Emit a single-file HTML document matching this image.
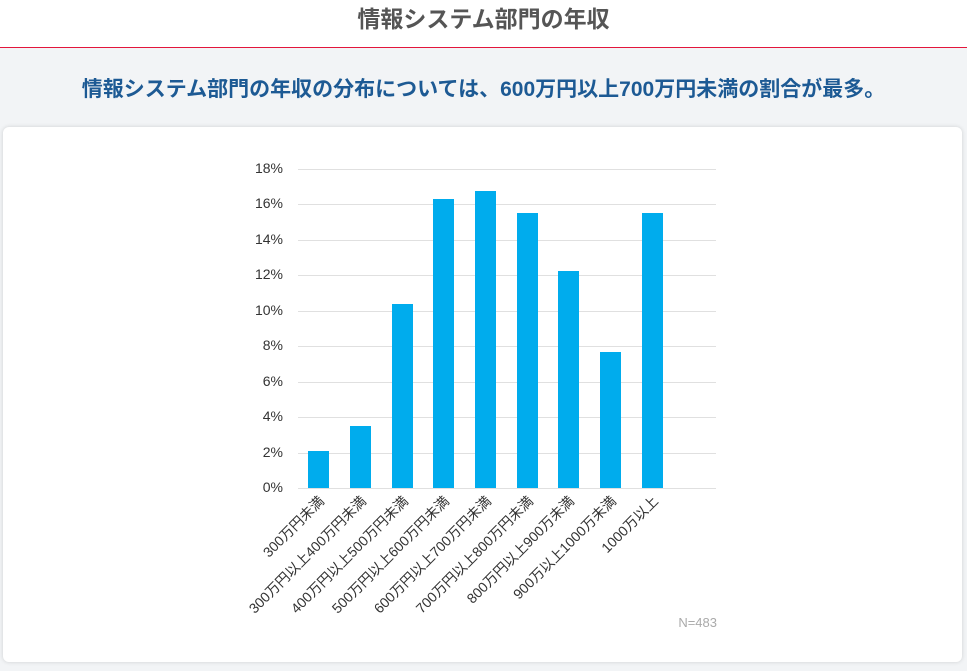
<!DOCTYPE html>
<html><head><meta charset="utf-8"><style>
body{margin:0;width:967px;height:671px;background:#f2f4f6;font-family:"Liberation Sans","Noto Sans CJK JP",sans-serif;position:relative;overflow:hidden}
.top{position:absolute;left:0;top:0;width:967px;height:47px;background:#fff;border-bottom:1px solid #e3163c}
.top h1{margin:0;text-align:center;font-size:23px;line-height:38px;color:#555;font-weight:bold}
.sub{position:absolute;top:73px;width:967px;text-align:center;font-size:21px;font-weight:bold;color:#1d5a94}
.card{position:absolute;left:3px;top:127px;width:959px;height:535px;background:#fff;border-radius:6px;box-shadow:0 0 4px rgba(0,0,0,.15)}
</style></head><body>
<div class="top"><h1>情報システム部門の年収</h1></div>
<div class="sub">情報システム部門の年収の分布については、600万円以上700万円未満の割合が最多。</div>
<div class="card"></div>
<svg style="position:absolute;left:0;top:0" width="967" height="671" font-family="Liberation Sans, Noto Sans CJK JP, sans-serif">
<g stroke="#e0e0e0" stroke-width="1">
<line x1="298" x2="716" y1="169.5" y2="169.5"/><line x1="298" x2="716" y1="204.5" y2="204.5"/><line x1="298" x2="716" y1="240.5" y2="240.5"/><line x1="298" x2="716" y1="275.5" y2="275.5"/><line x1="298" x2="716" y1="311.5" y2="311.5"/><line x1="298" x2="716" y1="346.5" y2="346.5"/><line x1="298" x2="716" y1="382.5" y2="382.5"/><line x1="298" x2="716" y1="417.5" y2="417.5"/><line x1="298" x2="716" y1="453.5" y2="453.5"/><line x1="298" x2="716" y1="488.5" y2="488.5"/>
</g>
<g font-size="14" fill="#333" text-anchor="end">
<text x="283" y="173">18%</text><text x="283" y="208">16%</text><text x="283" y="244">14%</text><text x="283" y="279">12%</text><text x="283" y="315">10%</text><text x="283" y="350">8%</text><text x="283" y="386">6%</text><text x="283" y="421">4%</text><text x="283" y="457">2%</text><text x="283" y="492">0%</text>
</g>
<g fill="#00aced">
<rect x="308" y="451" width="21" height="37"/><rect x="350" y="426" width="21" height="62"/><rect x="392" y="304" width="21" height="184"/><rect x="433" y="199" width="21" height="289"/><rect x="475" y="191" width="21" height="297"/><rect x="517" y="213" width="21" height="275"/><rect x="558" y="271" width="21" height="217"/><rect x="600" y="352" width="21" height="136"/><rect x="642" y="213" width="21" height="275"/>
</g>
<g font-size="14" fill="#333" text-anchor="end">
<text transform="translate(325,502) rotate(-45)">300万円未満</text>
<text transform="translate(367,502) rotate(-45)">300万円以上400万円未満</text>
<text transform="translate(409,502) rotate(-45)">400万円以上500万円未満</text>
<text transform="translate(450,502) rotate(-45)">500万円以上600万円未満</text>
<text transform="translate(492,502) rotate(-45)">600万円以上700万円未満</text>
<text transform="translate(534,502) rotate(-45)">700万円以上800万円未満</text>
<text transform="translate(575,502) rotate(-45)">800万円以上900万未満</text>
<text transform="translate(617,502) rotate(-45)">900万以上1000万未満</text>
<text transform="translate(659,502) rotate(-45)">1000万以上</text>
</g>
<text x="717" y="627" font-size="13" fill="#aaa" text-anchor="end">N=483</text>
</svg>
</body></html>
